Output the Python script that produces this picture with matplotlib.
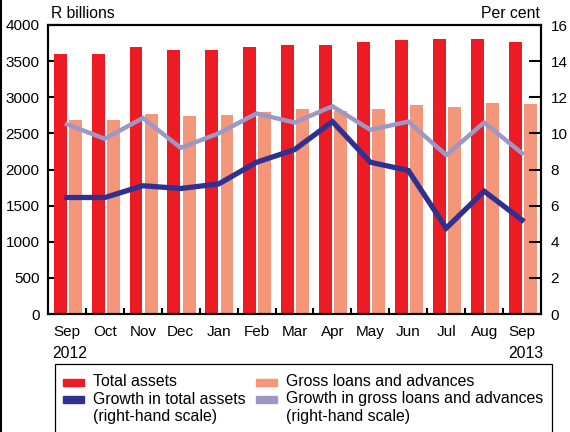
import matplotlib
matplotlib.use('Agg')
import matplotlib.pyplot as plt
from matplotlib.patches import Rectangle
from matplotlib.lines import Line2D
import numpy as np

plt.rcParams['font.family'] = ['Liberation Sans', 'DejaVu Sans']

# data
months = ['Sep', 'Oct', 'Nov', 'Dec', 'Jan', 'Feb', 'Mar', 'Apr', 'May', 'Jun', 'Jul', 'Aug', 'Sep']
total_assets = [3600, 3600, 3690, 3650, 3650, 3690, 3720, 3720, 3770, 3790, 3800, 3800, 3770]
gross_loans = [2680, 2690, 2770, 2745, 2760, 2800, 2840, 2810, 2840, 2890, 2870, 2920, 2910]
growth_assets = [6.45, 6.45, 7.1, 6.95, 7.2, 8.4, 9.1, 10.65, 8.4, 7.95, 4.75, 6.8, 5.2]
growth_loans = [10.5, 9.7, 10.85, 9.2, 10.0, 11.1, 10.6, 11.5, 10.2, 10.65, 8.8, 10.6, 8.9]

RED = '#ED1C24'
SALMON = '#F4967A'
BLUE = '#2E3192'
LAV = '#9C98C6'

W, H = 570, 432
fig = plt.figure(figsize=(W / 100, H / 100), dpi=100)


def fx(px):
    return px / W


def fy(py):
    return 1 - py / H


ax = fig.add_axes([fx(48), fy(314), fx(541) - fx(48), fy(25) - fy(314)])
x = np.arange(len(months))
ax.bar(x - 0.18, total_assets, width=0.34, color=RED, zorder=2)
ax.bar(x + 0.22, gross_loans, width=0.34, color=SALMON, zorder=2)
ax.set_xlim(-0.5, len(months) - 0.5)
ax.set_ylim(0, 4000)
ax.set_yticks(np.arange(0, 4001, 500))
ax.set_xticks(x)
ax.set_xticklabels(months)
ax.set_xticks(np.arange(0.5, len(months) - 1, 1.0), minor=True)
ax.tick_params(axis='x', which='major', length=0, pad=8, labelsize=11)
ax.tick_params(axis='x', which='minor', direction='in', length=4.5, width=1.5)
ax.tick_params(axis='y', direction='in', length=9, width=1.5, pad=6, labelsize=11)

ax2 = ax.twinx()
ax2.plot(x, growth_loans, color=LAV, lw=3.2, solid_joinstyle='miter')
ax2.plot(x, growth_assets, color=BLUE, lw=3.8, solid_joinstyle='miter')
ax2.set_ylim(0, 16)
ax2.set_yticks(np.arange(0, 17, 2))
ax2.tick_params(axis='y', direction='in', length=9, width=1.5, pad=7, labelsize=11)

for a in (ax, ax2):
    for s in a.spines.values():
        s.set_linewidth(1.5)

fig.text(fx(51), fy(13), 'R billions', ha='left', va='center', fontsize=11.3)
fig.text(fx(540), fy(13), 'Per cent', ha='right', va='center', fontsize=11.3)
fig.text(fx(52), fy(353), '2012', ha='left', va='center', fontsize=11.3)
fig.text(fx(543), fy(353), '2013', ha='right', va='center', fontsize=11.3)

# legend box drawn by hand
fig.patches.append(Rectangle((fx(55), fy(445)), fx(552) - fx(55), fy(364) - fy(445),
                             transform=fig.transFigure, fill=False, ec='black', lw=0.9))
entries = [
    (63, 382, RED, ['Total assets']),
    (63, 399, BLUE, ['Growth in total assets', '(right-hand scale)']),
    (256, 382, SALMON, ['Gross loans and advances']),
    (256, 399, LAV, ['Growth in gross loans and advances', '(right-hand scale)']),
]
for px, py, col, lines in entries:
    fig.patches.append(Rectangle((fx(px), fy(py + 3.5)), fx(21), fy(0) - fy(7),
                                 transform=fig.transFigure, color=col))
    for i, t in enumerate(lines):
        fig.text(fx(px + 30), fy(py + 17 * i), t, ha='left', va='center', fontsize=11.45)

# thin border at the left edge of the picture
fig.lines.append(Line2D([fx(1), fx(1)], [0, 1], transform=fig.transFigure, color='black', lw=1.5))

fig.savefig('out.png', dpi=100)
